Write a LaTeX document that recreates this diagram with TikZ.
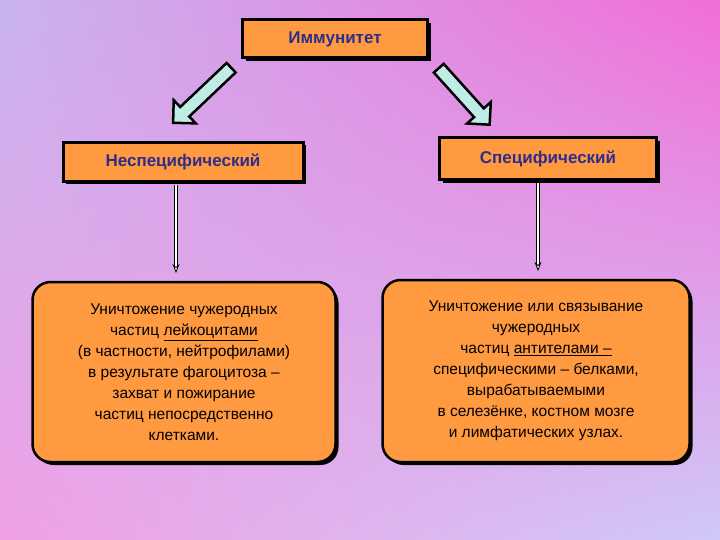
\documentclass[tikz,border=0pt]{standalone}
\usepackage{fontspec}
\setmainfont{Liberation Sans}
\usetikzlibrary{shapes.arrows,arrows.meta,shadows,shadings}
\definecolor{boxor}{HTML}{FF9A40}
\definecolor{txt}{HTML}{2E2E8A}
\definecolor{arr}{HTML}{BFEDE6}
\definecolor{bgul}{HTML}{C8B4EE}
\definecolor{bgur}{HTML}{F26ED6}
\definecolor{bgll}{HTML}{EFA0E6}
\definecolor{bglr}{HTML}{CFC8F8}
\begin{document}
\begin{tikzpicture}[x=1pt,y=-1pt,
  hbox/.style={draw=black,line width=3pt,fill=boxor,text=txt,font=\bfseries\fontsize{17}{20}\selectfont,
    drop shadow={shadow xshift=3pt,shadow yshift=-3pt,opacity=1,fill=black}},
  rbox/.style={draw=black,line width=2.5pt,fill=boxor,rounded corners=18pt,text=black,align=center,
    font=\fontsize{15.5}{21}\selectfont,
    drop shadow={shadow xshift=3pt,shadow yshift=-3pt,opacity=1,fill=black}},
  bigarrow/.style={single arrow,draw=black,line width=2.5pt,fill=arr,minimum width=32pt,
    single arrow head extend=9pt,inner sep=5pt},
  thin/.style={double=white,draw=black,double distance=2pt,line width=0.8pt,
    -{Stealth[open,length=9pt,width=7pt,fill=white]}}]
\useasboundingbox (0,0) rectangle (720,540);
\shade[upper left=bgul,upper right=bgur,lower left=bgll,lower right=bglr] (0,0) rectangle (720,540);
\node[hbox,minimum width=185pt,minimum height=38pt] (imm) at (335,39) {Иммунитет};
\node[hbox,minimum width=240pt,minimum height=39pt] (ns) at (183,162) {Неспецифический};
\node[hbox,minimum width=217pt,minimum height=42pt] (sp) at (548,159) {Специфический};
\node[rbox,minimum width=303pt,minimum height=180pt] (bl) at (184,372) {Уничтожение чужеродных\\частиц \underline{лейкоцитами}\\(в частности, нейтрофилами)\\в результате фагоцитоза –\\захват и пожирание\\частиц непосредственно\\клетками.};
\node[rbox,minimum width=307pt,minimum height=182pt] (br) at (536,371) {Уничтожение или связывание\\чужеродных\\частиц \underline{антителами –}\\специфическими – белками,\\вырабатываемыми\\в селезёнке, костном мозге\\и лимфатических узлах.};
\node[bigarrow,minimum height=80pt,rotate=223.5] (la) at (204.5,93) {};
\node[bigarrow,minimum height=76pt,rotate=-48] (ra) at (462,94) {};
\coordinate (l1) at (176,185);\coordinate (l2) at (176,273);
\coordinate (r1) at (538,183);\coordinate (r2) at (538,271);
\draw[thin] (l1) -- (l2);
\draw[thin] (r1) -- (r2);
\end{tikzpicture}
\end{document}
